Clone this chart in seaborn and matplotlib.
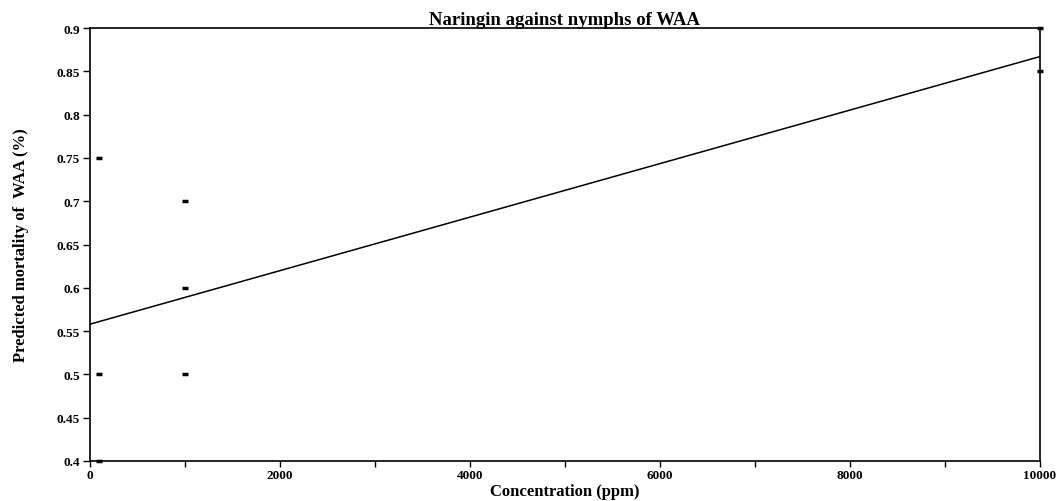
# Naringin against nymphs of WAA - recreated with seaborn
import numpy as np
import pandas as pd
import matplotlib
matplotlib.use("Agg")
import matplotlib.pyplot as plt
import seaborn as sns
from matplotlib.ticker import MultipleLocator, FuncFormatter

# observed mortality points
conc = [100, 100, 100, 1000, 1000, 1000, 10000, 10000]
mortality = [0.75, 0.5, 0.4, 0.7, 0.6, 0.5, 0.9, 0.85]

# fitted (predicted) line
fit_conc = [0, 10000]
fit_mortality = [0.558, 0.867]

points = pd.DataFrame({"conc": conc, "mortality": mortality})
fit = pd.DataFrame({"conc": fit_conc, "mortality": fit_mortality})

sns.set_style("white")
plt.rcParams['font.family'] = ['Liberation Serif', 'DejaVu Serif']
plt.rcParams['font.weight'] = 'bold'
plt.rcParams['text.color'] = 'black'
plt.rcParams['axes.labelcolor'] = 'black'

fig = plt.figure(figsize=(10.56, 5.02), dpi=100)
ax = fig.add_axes([0.0852, 0.0797, 0.8995, 0.8625])

sns.lineplot(data=fit, x="conc", y="mortality", color="black", linewidth=1.1, ax=ax)
sns.scatterplot(data=points, x="conc", y="mortality", marker="_", s=25,
                color="black", linewidth=2.5, ax=ax, clip_on=False, zorder=5)

ax.set_xlim(0, 10000)
ax.set_ylim(0.4, 0.9)

ax.xaxis.set_major_locator(MultipleLocator(2000))
ax.xaxis.set_minor_locator(MultipleLocator(1000))
ax.yaxis.set_major_locator(MultipleLocator(0.05))
ax.yaxis.set_major_formatter(FuncFormatter(lambda v, p: f"{v:.2f}".rstrip("0").rstrip(".")))

ax.tick_params(axis="both", which="both", direction="out", colors="black",
               labelsize=9.5)
ax.tick_params(axis="x", which="both", length=4, width=1, pad=2)
ax.tick_params(axis="y", which="major", length=5, width=1, pad=2)
ax.xaxis.set_ticks_position("bottom")
ax.yaxis.set_ticks_position("left")
for lab in ax.get_xticklabels() + ax.get_yticklabels():
    lab.set_fontweight("bold")

for side in ["left", "bottom", "top", "right"]:
    ax.spines[side].set_visible(True)
    ax.spines[side].set_color("black")
    ax.spines[side].set_linewidth(1.2)

ax.set_title("Naringin against nymphs of WAA", fontsize=13.5, fontweight="bold",
             color="black", pad=2)
ax.set_xlabel("Concentration (ppm)", fontsize=12, fontweight="bold", labelpad=1)
ax.set_ylabel("Predicted mortality of  WAA (%)", fontsize=12, fontweight="bold", labelpad=20)

fig.savefig("out.png", dpi=100)
